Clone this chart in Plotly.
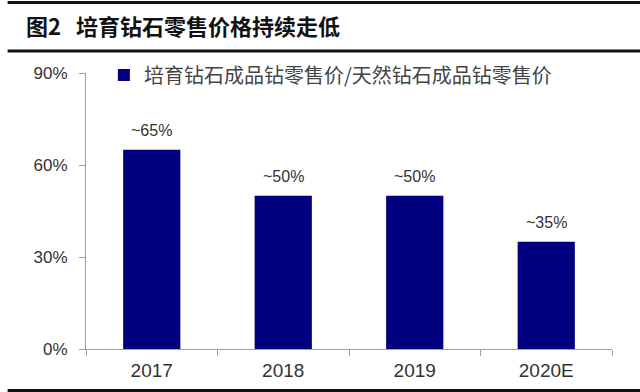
import plotly.graph_objects as go

categories = ["2017", "2018", "2019", "2020E"]
values = [65, 50, 50, 35]
labels = ["~65%", "~50%", "~50%", "~35%"]
series_name = "培育钻石成品钻零售价/天然钻石成品钻零售价"
title_text = "图2   培育钻石零售价格持续走低"
y_ticks = [0, 30, 60, 90]
y_tick_labels = ["0%", "30%", "60%", "90%"]

fig = go.Figure()
fig.add_trace(go.Bar(
    x=categories, y=values, name=series_name,
    marker=dict(color="#000080", line=dict(width=0)),
    hoverinfo="skip",
))

# value labels (category axis: position by category index)
for i, (v, t) in enumerate(zip(values, labels)):
    fig.add_annotation(x=i, y=v, xref="x", yref="y", text=t, showarrow=False,
                       yanchor="middle", yshift=19,
                       font=dict(family="Liberation Sans, Arial", size=16, color="#333333"))

# Title and rule lines
fig.add_annotation(xref="paper", yref="paper", x=-0.118, y=1.174, xanchor="left", yanchor="middle",
                   text="<b>" + title_text + "</b>", showarrow=False,
                   font=dict(family="Noto Sans CJK SC", size=22, color="#111111"))
fig.add_shape(type="line", xref="paper", yref="paper", x0=-0.149, x1=1.06, y0=1.2554, y1=1.2554,
              line=dict(color="#111111", width=3))
fig.add_shape(type="line", xref="paper", yref="paper", x0=-0.149, x1=1.06, y0=1.0797, y1=1.0797,
              line=dict(color="#111111", width=3))
fig.add_shape(type="line", xref="paper", yref="paper", x0=-0.149, x1=1.06, y0=-0.150, y1=-0.150,
              line=dict(color="#111111", width=3))

fig.update_layout(
    width=640, height=392,
    margin=dict(l=86, r=28, t=73, b=43),
    paper_bgcolor="white", plot_bgcolor="white",
    showlegend=True,
    legend=dict(x=0.034, y=0.993, xanchor="left", yanchor="middle", bgcolor="rgba(0,0,0,0)",
                font=dict(family="Noto Sans CJK SC", size=20, color="#444444"),
                itemwidth=30),
    bargap=0.565,
    xaxis=dict(type="category", categoryorder="array", categoryarray=categories,
               showline=True, linecolor="#a0a0a0", linewidth=1, ticks="outside",
               tickson="boundaries", ticklen=6, tickcolor="#a0a0a0", ticklabelstandoff=4,
               tickfont=dict(family="Liberation Sans, Arial", size=19, color="#333333")),
    yaxis=dict(range=[0, 90], tickvals=y_ticks, ticktext=y_tick_labels, showgrid=False,
               showline=True, linecolor="#a0a0a0", linewidth=1, ticks="outside", ticklen=6,
               tickcolor="#a0a0a0", zeroline=False, ticklabelstandoff=8,
               tickfont=dict(family="Liberation Sans, Arial", size=17, color="#333333")),
)

fig.write_html("out.html", config={"displayModeBar": False},
               post_script="document.body.style.margin='0';")
